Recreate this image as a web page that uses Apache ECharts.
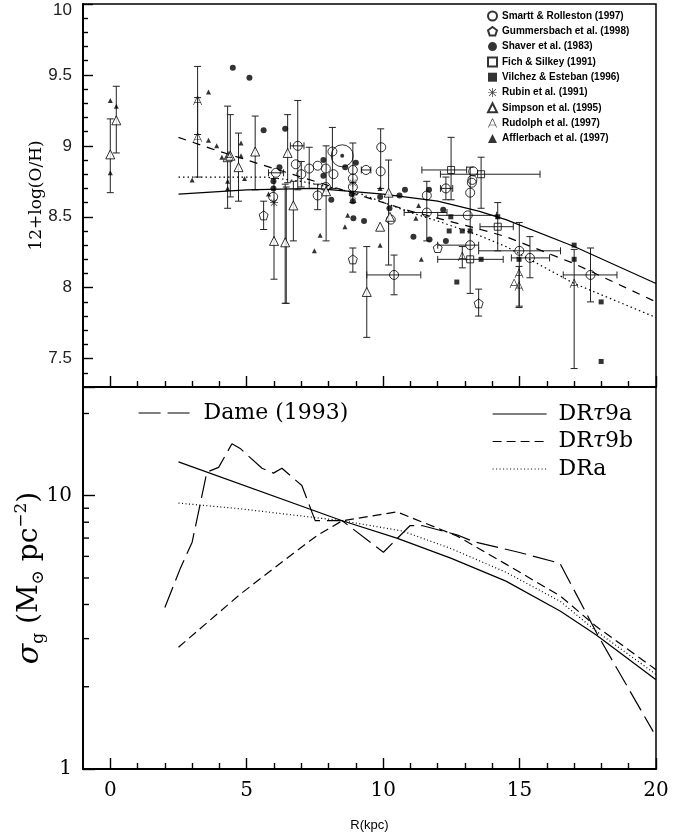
<!DOCTYPE html>
<html><head><meta charset="utf-8">
<script src="https://cdn.jsdelivr.net/npm/echarts@6/dist/echarts.min.js"></script>
<style>html,body{margin:0;padding:0;background:#fff}#c{width:683px;height:837px}</style>
</head><body><div id="c"></div>
<script>
// ---------- tick values ----------
const majorX = [0, 5, 10, 15, 20];
const minorX = [1, 2, 3, 4, 6, 7, 8, 9, 11, 12, 13, 14, 16, 17, 18, 19];
const majorYTop = [7.5, 8, 8.5, 9, 9.5, 10];
const minorYTop = [7.4, 7.6, 7.7, 7.8, 7.9, 8.1, 8.2, 8.3, 8.4, 8.6, 8.7, 8.8, 8.9, 9.1, 9.2, 9.3, 9.4, 9.6, 9.7, 9.8, 9.9];
const logMinorTicks = [2, 3, 4, 5, 6, 7, 8, 9, 20];

// ---------- top panel: abundance data [R, 12+log(O/H)] ----------
const smartt = [[5.97,8.64],[6.07,8.81],[6.8,8.87],[6.87,9.0],[7.0,8.8],[7.29,8.84],[7.6,8.65],[7.6,8.86],[7.9,8.84],[7.9,8.71],[8.14,8.96],[8.18,8.8],[8.89,8.83],[8.89,8.77],[8.89,8.71],[9.37,8.83],[9.93,8.99],[9.91,8.82],[10.28,8.48],[10.4,8.09],[11.6,8.65],[11.6,8.53],[12.3,8.7],[13.27,8.76],[13.19,8.67],[13.1,8.51],[13.19,8.3],[14.99,8.26],[15.38,8.21],[17.6,8.09],[13.3,8.82],[13.25,8.74]];
const gummersbach = [[5.62,8.51],[8.89,8.2],[12.0,8.28],[13.5,7.89]];
const shaver = [[4.49,9.55],[5.1,9.48],[5.62,9.11],[6.41,9.12],[6.2,8.85],[5.98,8.75],[5.98,8.7],[7.81,8.9],[7.81,8.79],[8.61,8.85],[9.0,8.88],[8.1,8.62],[8.89,8.61],[8.91,8.49],[9.3,8.47],[9.89,8.64],[10.8,8.69],[10.6,8.65],[11.68,8.69],[12.2,8.55],[11.11,8.36],[11.7,8.34],[12.3,8.33],[10.23,8.56],[8.85,8.66]];
const fich = [[12.49,8.83],[13.59,8.8],[14.2,8.43],[13.19,8.2]];
const vilchez = [[12.48,8.5],[12.42,8.4],[12.9,8.4],[13.19,8.4],[12.7,8.04],[14.2,8.5],[13.59,8.2],[14.98,8.2],[17.0,8.3],[17.0,8.2],[17.99,7.9],[17.99,7.48]];
const rubin = [[8.89,8.74],[8.89,8.65],[6.0,8.6]];
const simpson = [[0,8.94],[0.22,9.18],[4.3,8.92],[4.4,8.93],[4.7,8.85],[5.31,8.96],[6.0,8.33],[6.41,8.32],[6.5,8.95],[6.71,8.58],[7.91,8.68],[9.4,7.97],[9.89,8.43],[10.2,8.67],[10.25,8.5]];
const rudolph = [[3.2,9.32],[3.2,9.06],[4.35,8.93],[12.9,8.22],[14.98,8.1],[14.8,8.03],[14.98,8.01],[17.0,8.03]];
const afflerbach = [[0,9.32],[0.22,9.28],[0,8.81],[3.0,8.76],[3.6,9.38],[3.6,9.04],[3.9,9.0],[4.09,8.92],[4.3,8.75],[4.3,8.7],[4.79,8.93],[4.79,9.02],[4.92,8.77],[5.8,8.66],[7.48,8.26],[7.69,8.37],[8.6,8.43],[8.7,8.51],[9.89,8.7],[9.89,8.3],[11.2,8.49],[11.3,8.58],[11.4,8.2]];
const sun = [[8.5,8.93]];

// vertical error bars [R, low, high]
const yErr = [[0,8.67,9.19],[0.22,8.95,9.42],[3.2,9.08,9.56],[3.2,8.78,9.34],[4.3,8.56,9.28],[4.4,8.64,9.22],[4.7,8.61,9.09],[5.31,8.69,9.21],[5.62,8.41,8.61],[6.0,8.06,8.77],[6.41,7.89,8.73],[6.45,7.89,8.71],[6.5,8.74,9.22],[6.71,8.33,8.75],[6.87,8.69,9.32],[7.0,8.71,8.89],[7.29,8.7,8.99],[7.6,8.55,8.73],[7.91,8.33,9.0],[8.14,8.7,9.13],[8.89,8.11,8.28],[8.89,8.6,9.02],[9.4,7.65,8.29],[9.91,8.7,9.12],[10.2,8.16,8.9],[10.4,7.95,8.23],[11.6,8.33,8.75],[12.3,8.62,8.78],[12.49,8.62,9.06],[13.19,7.96,8.85],[13.59,8.56,8.92],[13.5,7.8,7.99],[14.2,8.26,8.6],[14.99,7.87,8.46],[15.38,8.07,8.36],[17.6,7.9,8.28],[12.9,8.14,8.29],[17.0,7.43,8.27],[14.98,7.86,8.15]];
// horizontal error bars [12+log(O/H), R low, R high]
const xErr = [[8.81,5.8,6.35],[9.0,6.6,7.1],[8.83,9.2,9.55],[8.09,9.4,11.38],[8.53,10.77,12.34],[8.7,12.1,12.55],[8.83,11.42,13.06],[8.8,12.1,15.75],[8.51,12.0,14.16],[8.3,12.0,13.5],[8.2,12.0,14.4],[8.43,13.55,14.77],[8.26,13.5,16.5],[8.21,14.7,16.1],[8.09,16.6,18.57]];

// model gradients (top)
const topSolid = [[2.5,8.66],[5,8.69],[7.5,8.7],[10,8.66],[12,8.61],[13.5,8.54],[14.5,8.48],[17,8.29],[20,8.03]];
const topDashed = [[2.5,9.06],[3.7,8.98],[5.5,8.87],[7.5,8.75],[9.5,8.63],[11,8.54],[12,8.49],[13.4,8.42],[14.5,8.36],[17,8.17],[20,7.9]];
const topDotted = [[2.5,8.78],[5.7,8.78],[7,8.75],[8,8.71],[9.2,8.66],[11,8.53],[12,8.47],[13.5,8.37],[14.5,8.29],[17,8.03],[20,7.79]];

// ---------- bottom panel: gas surface density ----------
const dame = [[2.0,3.9],[2.56,5.4],[3.0,6.76],[3.54,12.2],[3.97,12.7],[4.46,15.5],[4.76,14.9],[5.56,12.6],[5.98,12.1],[6.29,12.6],[7.02,10.9],[7.39,8.71],[7.51,8.11],[8.49,8.11],[10.01,6.21],[10.99,7.78],[11.42,7.78],[12.7,7.2],[13.3,6.8],[15.0,6.2],[16.48,5.66],[17.89,3.06],[19.9,1.37]];
const dr9a = [[2.5,13.3],[8.5,8.1],[10.5,7.0],[12.5,5.9],[14.5,4.87],[16.5,3.78],[17.8,3.1],[20,2.12]];
const dr9b = [[2.5,2.79],[4.76,4.36],[6.35,5.78],[7.57,7.14],[8.5,8.1],[10.5,8.73],[12.7,7.13],[14.5,5.62],[16.5,4.29],[17.8,3.33],[20,2.31]];
const dra = [[2.5,9.4],[4.76,8.96],[8.5,8.1],[10.7,7.43],[12.5,6.4],[14.5,5.25],[16.5,4.1],[17.8,3.2],[20,2.22]];

// ---------- chart ----------
const BLACK = '#000';
const pentagon = 'path://M10,0 L19.5,6.9 L15.9,18.1 L4.1,18.1 L0.5,6.9 Z';
const asterisk = 'path://M9.2,0 L10.8,0 L10.8,20 L9.2,20 Z M0,9.2 L20,9.2 L20,10.8 L0,10.8 Z M1.7,2.8 L2.8,1.7 L18.3,17.2 L17.2,18.3 Z M17.2,1.7 L18.3,2.8 L2.8,18.3 L1.7,17.2 Z';
const rudolphSym = 'path://M9.2,0 L10.8,0 L1.6,20 L0,20 Z M9.2,0 L10.8,0 L20,20 L18.4,20 Z M2,13.5 L18,13.5 L18,15 L2,15 Z';
const open = {color: 'rgba(0,0,0,0)', borderColor: BLACK, borderWidth: 1};
const filled = {color: BLACK};

function scatter(name, data, symbol, size, style) {
  return {name, type: 'scatter', xAxisIndex: 0, yAxisIndex: 0, data, symbol, symbolSize: size,
    itemStyle: style, z: 5, silent: true};
}
function line(name, data, xi, yi, type) {
  return {name, type: 'line', xAxisIndex: xi, yAxisIndex: yi, data, symbol: 'none', showSymbol: false,
    itemStyle: {color: BLACK}, lineStyle: {color: BLACK, width: 1.2, type}, z: 4, silent: true};
}
const capW = 3.5;
function seg(x1, y1, x2, y2) {
  return {type: 'line', shape: {x1, y1, x2, y2}, style: {stroke: '#222', lineWidth: 1}};
}

const TICK = BLACK;
function tickStyle() { return {color: TICK, width: 1.4}; }
function axLine() { return {show: true, onZero: false, lineStyle: {color: BLACK, width: 2}}; }
function noLine() { return {show: false, onZero: false}; }
function xAx(grid, custom, len, labels) {
  const a = {gridIndex: grid, type: 'value', min: -1, max: 20, position: 'bottom',
    axisLine: labels !== null ? axLine() : noLine(),
    axisTick: {show: true, inside: true, length: len, customValues: custom, lineStyle: tickStyle()},
    axisLabel: {show: false}, splitLine: {show: false}};
  if (labels) {
    a.axisLabel = {show: true, customValues: custom, fontFamily: 'DejaVu Serif', fontSize: 20, color: BLACK, margin: 12};
    a.name = 'R(kpc)'; a.nameLocation = 'middle'; a.nameGap = 50; a.nameMoveOverlap = false;
    a.nameTextStyle = {fontFamily: 'Liberation Sans', fontSize: 13, color: BLACK};
  }
  return a;
}

const option = {
  animation: false,
  backgroundColor: '#fff',
  grid: [
    {left: 83, top: 4, width: 573, height: 383, show: true, borderColor: BLACK, borderWidth: 1.5, backgroundColor: 'rgba(0,0,0,0)', containLabel: false, outerBoundsMode: 'none'},
    {left: 83, top: 387, width: 573, height: 382, show: true, borderColor: BLACK, borderWidth: 1.5, backgroundColor: 'rgba(0,0,0,0)', containLabel: false, outerBoundsMode: 'none'}
  ],
  xAxis: [
    xAx(0, majorX, 11, false),
    xAx(0, minorX, 6, null),
    xAx(1, majorX, 11, true),
    xAx(1, minorX, 6, null)
  ],
  yAxis: [
    {gridIndex: 0, type: 'value', min: 7.3, max: 10, position: 'left', axisLine: axLine(),
      axisTick: {show: true, inside: true, length: 10, customValues: majorYTop, lineStyle: tickStyle()},
      axisLabel: {show: true, customValues: majorYTop, fontFamily: 'Liberation Sans', fontSize: 17, color: '#222', margin: 11,
        formatter: v => (v === 10 ? '{t|10}' : String(v)),
        rich: {t: {fontFamily: 'Liberation Sans', fontSize: 17, color: '#222', padding: [12, 0, 0, 0]}}},
      splitLine: {show: false},
      name: '12+log(O/H)', nameLocation: 'middle', nameRotate: 90, nameGap: 38, nameMoveOverlap: false,
      nameTextStyle: {fontFamily: 'DejaVu Serif', fontSize: 17, color: BLACK}},
    {gridIndex: 0, type: 'value', min: 7.3, max: 10, position: 'left', axisLine: noLine(),
      axisTick: {show: true, inside: true, length: 5, customValues: minorYTop, lineStyle: tickStyle()},
      axisLabel: {show: false}, splitLine: {show: false}},
    {gridIndex: 1, type: 'log', logBase: 10, min: 1, max: 25, position: 'left', axisLine: axLine(),
      axisTick: {show: true, inside: true, length: 12, lineStyle: tickStyle()},
      axisLabel: {show: true, fontFamily: 'DejaVu Serif', fontSize: 20, color: BLACK, margin: 11,
        formatter: v => (Math.abs(v - 1) < 1e-9 ? '1' : (Math.abs(v - 10) < 1e-9 ? '10' : ''))},
      splitLine: {show: false}, minorTick: {show: false},
      name: '{i|σ}{s|g} {a|(M}{s|⊙}{a| pc}{p|−2}{a|)}', nameLocation: 'middle', nameRotate: 90, nameGap: 36, nameMoveOverlap: false,
      nameTextStyle: {fontFamily: 'DejaVu Serif', fontSize: 28, color: BLACK,
        rich: {
          a: {fontFamily: 'DejaVu Serif', fontSize: 28, lineHeight: 34, color: BLACK},
          i: {fontFamily: 'DejaVu Serif', fontStyle: 'italic', fontSize: 30, lineHeight: 34, color: BLACK},
          s: {fontFamily: 'DejaVu Serif', fontSize: 17, lineHeight: 17, verticalAlign: 'bottom', color: BLACK},
          p: {fontFamily: 'DejaVu Serif', fontSize: 17, lineHeight: 17, verticalAlign: 'top', color: BLACK}
        }}}
  ],
  legend: [
    {data: ['Smartt & Rolleston (1997)', 'Gummersbach et al. (1998)', 'Shaver et al. (1983)', 'Fich & Silkey (1991)',
            'Vilchez & Esteban (1996)', 'Rubin et al. (1991)', 'Simpson et al. (1995)', 'Rudolph et al. (1997)', 'Afflerbach et al. (1997)'],
      orient: 'vertical', left: 487, top: 10, itemWidth: 9, itemHeight: 9, itemGap: 3.3, padding: 0,
      selectedMode: false, inactiveColor: BLACK,
      textStyle: {fontFamily: 'Liberation Sans', fontWeight: 'bold', fontSize: 10, color: BLACK, lineHeight: 12}},
    {data: ['Dame (1993)'], orient: 'vertical', left: 138, top: 402, itemWidth: 52, itemHeight: 14, padding: 0,
      selectedMode: false, itemStyle: {opacity: 0}, lineStyle: {color: BLACK, width: 1.2},
      textStyle: {fontFamily: 'DejaVu Serif', fontSize: 22, color: BLACK, lineHeight: 22, padding: [0, 0, 0, 8]}},
    {data: ['DRτ9a', 'DRτ9b', 'DRa'], orient: 'vertical', left: 492, top: 403, itemWidth: 54, itemHeight: 14, itemGap: 5.5, padding: 0,
      selectedMode: false, itemStyle: {opacity: 0}, lineStyle: {color: BLACK, width: 1.2},
      formatter: n => n.replace('τ', '{i|τ}'),
      textStyle: {fontFamily: 'DejaVu Serif', fontSize: 22, color: BLACK, lineHeight: 22, padding: [0, 0, 0, 7],
        rich: {i: {fontFamily: 'DejaVu Serif', fontStyle: 'italic', fontSize: 22, color: BLACK}}}}
  ],
  series: [
    // error bars (top panel)
    {type: 'custom', name: 'yerr', xAxisIndex: 0, yAxisIndex: 0, data: yErr, encode: {x: 0, y: [1, 2]}, z: 3, silent: true,
      renderItem: (p, api) => {
        const a = api.coord([api.value(0), api.value(1)]);
        const b = api.coord([api.value(0), api.value(2)]);
        return {type: 'group', children: [seg(a[0], a[1], b[0], b[1]), seg(a[0] - capW, a[1], a[0] + capW, a[1]), seg(b[0] - capW, b[1], b[0] + capW, b[1])]};
      }},
    {type: 'custom', name: 'xerr', xAxisIndex: 0, yAxisIndex: 0, data: xErr, encode: {x: [1, 2], y: 0}, z: 3, silent: true,
      renderItem: (p, api) => {
        const a = api.coord([api.value(1), api.value(0)]);
        const b = api.coord([api.value(2), api.value(0)]);
        return {type: 'group', children: [seg(a[0], a[1], b[0], b[1]), seg(a[0], a[1] - capW, a[0], a[1] + capW), seg(b[0], b[1] - capW, b[0], b[1] + capW)]};
      }},
    // log-axis minor ticks (bottom panel)
    {type: 'custom', name: 'logticks', xAxisIndex: 2, yAxisIndex: 2, data: logMinorTicks.map(v => [v]), encode: {y: 0}, z: 6, silent: true, clip: false,
      renderItem: (p, api) => {
        const c = api.coord([-1, api.value(0)]);
        return {type: 'line', shape: {x1: c[0], y1: c[1], x2: c[0] + 6, y2: c[1]}, style: {stroke: TICK, lineWidth: 1.4}};
      }},
    // model lines (top)
    line('topSolid', topSolid, 0, 0, 'solid'),
    line('topDashed', topDashed, 0, 0, [8, 7]),
    line('topDotted', topDotted, 0, 0, [1.5, 3]),
    // data points (top)
    scatter('Smartt & Rolleston (1997)', smartt, 'circle', 9, open),
    scatter('Gummersbach et al. (1998)', gummersbach, pentagon, 9, open),
    scatter('Shaver et al. (1983)', shaver, 'circle', 6, filled),
    scatter('Fich & Silkey (1991)', fich, 'rect', 7, open),
    scatter('Vilchez & Esteban (1996)', vilchez, 'rect', 5, filled),
    scatter('Rubin et al. (1991)', rubin, asterisk, 8, filled),
    scatter('Simpson et al. (1995)', simpson, 'triangle', 9, {color: '#fff', borderColor: BLACK, borderWidth: 1}),
    scatter('Rudolph et al. (1997)', rudolph, rudolphSym, 9, filled),
    scatter('Afflerbach et al. (1997)', afflerbach, 'triangle', 5, filled),
    scatter('sunRing', sun, 'circle', 22, open),
    scatter('sunDot', sun, 'circle', 4, filled),
    // bottom panel
    line('Dame (1993)', dame, 2, 2, [22, 7]),
    line('DRτ9a', dr9a, 2, 2, 'solid'),
    line('DRτ9b', dr9b, 2, 2, [9, 5]),
    line('DRa', dra, 2, 2, [1, 2.5])
  ]
};
const chart = echarts.init(document.getElementById('c'), null, {renderer: 'canvas'});
chart.setOption(option);
</script></body></html>
